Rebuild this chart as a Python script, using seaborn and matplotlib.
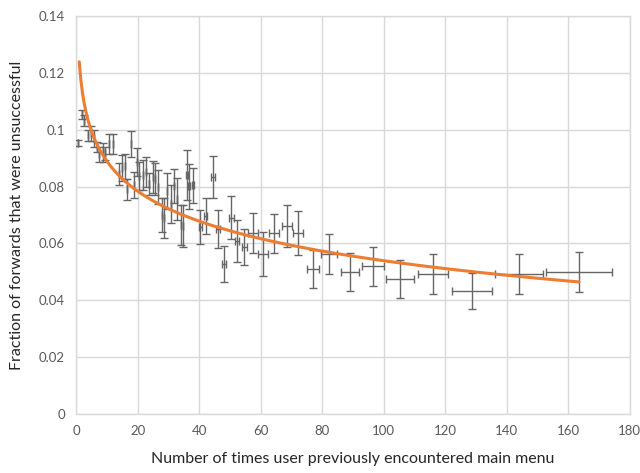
import numpy as np
import pandas as pd
import matplotlib
matplotlib.use("Agg")
import matplotlib.pyplot as plt
import seaborn as sns

# ---- data ----
x_vals = [0.7, 1.85, 2.6, 3.7, 4.8, 5.8, 6.7, 7.5, 8.7, 9.4, 10.7, 12.0, 14.0, 15.0, 15.9,
          16.6, 17.9, 18.9, 19.8, 20.5, 21.8, 22.7, 23.7, 25.0, 25.7, 26.6, 27.9, 28.6, 29.6,
          30.9, 31.8, 32.8, 34.1, 34.8, 36.1, 36.7, 38.0, 40.3, 42.2, 44.5, 46.1, 48.1, 50.4,
          52.3, 54.6, 57.5, 60.8, 64.3, 68.6, 72.1, 77.0, 82.2, 89.0, 96.5, 105.3, 116.0,
          128.7, 144.0, 163.5]
y_vals = [0.0953, 0.1054, 0.1032, 0.0980, 0.0987, 0.0970, 0.0939, 0.0913, 0.0920, 0.0917,
          0.0950, 0.0950, 0.0844, 0.0865, 0.0871, 0.0790, 0.0950, 0.0805, 0.0886, 0.0837,
          0.0840, 0.0851, 0.0808, 0.0833, 0.0826, 0.0798, 0.0700, 0.0689, 0.0784, 0.0738,
          0.0801, 0.0756, 0.0664, 0.0661, 0.0840, 0.0801, 0.0805, 0.0657, 0.0696, 0.0833,
          0.0650, 0.0527, 0.0690, 0.0608, 0.0587, 0.0636, 0.0562, 0.0636, 0.0661, 0.0636,
          0.0510, 0.0562, 0.0499, 0.0520, 0.0474, 0.0492, 0.0432, 0.0492, 0.0499]
y_err = [0.0010, 0.0015, 0.0020, 0.0018, 0.0026, 0.0030, 0.0018, 0.0026, 0.0033, 0.0023,
         0.0034, 0.0034, 0.0038, 0.0045, 0.0044, 0.0038, 0.0047, 0.0047, 0.0050, 0.0050,
         0.0053, 0.0053, 0.0038, 0.0056, 0.0056, 0.0059, 0.0059, 0.0070, 0.0062, 0.0067,
         0.0060, 0.0073, 0.0070, 0.0073, 0.0088, 0.0079, 0.0062, 0.0059, 0.0062, 0.0073,
         0.0067, 0.0064, 0.0076, 0.0074, 0.0064, 0.0070, 0.0077, 0.0069, 0.0074, 0.0078,
         0.0067, 0.0070, 0.0067, 0.0069, 0.0066, 0.0069, 0.0063, 0.0069, 0.0070]
x_err = [0.0, 0.0, 0.0, 0.0, 0.0, 0.0, 0.0, 0.0, 0.0, 0.0,
         0.0, 0.0, 0.0, 0.0, 0.0, 0.0, 0.0, 0.0, 0.0, 0.0,
         0.0, 0.0, 0.0, 0.0, 0.0, 0.0, 0.0, 0.0, 0.0, 0.0,
         0.0, 0.0, 0.0, 0.0, 0.4, 0.4, 0.4, 0.5, 0.5, 0.6,
         0.6, 0.6, 0.8, 0.8, 0.8, 1.6, 1.6, 1.6, 1.6, 1.6,
         2.0, 2.5, 3.0, 3.5, 4.5, 5.0, 6.5, 7.8, 10.6]

# logarithmic trendline: y = trend_a + trend_b * ln(x)
trend_a = 0.1239
trend_b = -0.0152
trend_x_range = [1.0, 163.5]

x_ticks = [0, 20, 40, 60, 80, 100, 120, 140, 160, 180]
y_ticks = [0, 0.02, 0.04, 0.06, 0.08, 0.1, 0.12, 0.14]
y_tick_labels = ["0", "0.02", "0.04", "0.06", "0.08", "0.1", "0.12", "0.14"]
x_label = "Number of times user previously encountered main menu"
y_label = "Fraction of forwards that were unsuccessful"

df = pd.DataFrame({"x": x_vals, "y": y_vals, "yerr": y_err, "xerr": x_err})

trend_x = np.linspace(trend_x_range[0], trend_x_range[1], 300)
trend = pd.DataFrame({"x": trend_x, "y": trend_a + trend_b * np.log(trend_x)})

sns.set_theme(style="whitegrid")
plt.rcParams["font.family"] = ["Lato", "DejaVu Sans"]

fig = plt.figure(figsize=(6.4, 4.73), dpi=100)
ax = fig.add_axes([0.119, 0.125, 0.865, 0.841])

grid_c = "#D9D9D9"
ax.errorbar(df["x"], df["y"], yerr=df["yerr"], xerr=df["xerr"], fmt="none",
            ecolor="#666666", elinewidth=1.0, capsize=3, capthick=1.0, zorder=3)
sns.lineplot(data=trend, x="x", y="y", ax=ax, color="#ED7D31", linewidth=2.2, zorder=4)

ax.set_xlim(0, 180)
ax.set_ylim(0, 0.14)
ax.set_xticks(x_ticks)
ax.set_yticks(y_ticks)
ax.set_yticklabels(y_tick_labels)
ax.grid(True, color=grid_c, linewidth=1.0)
for s in ax.spines.values():
    s.set_color(grid_c)
    s.set_linewidth(1.0)
ax.tick_params(axis="both", length=0, labelsize=9.5, colors="#595959", pad=8)
ax.set_xlabel(x_label, fontsize=11.5, color="#262626", labelpad=11)
ax.set_ylabel(y_label, fontsize=11.5, color="#262626", labelpad=11)

fig.savefig("out.png", dpi=100)
